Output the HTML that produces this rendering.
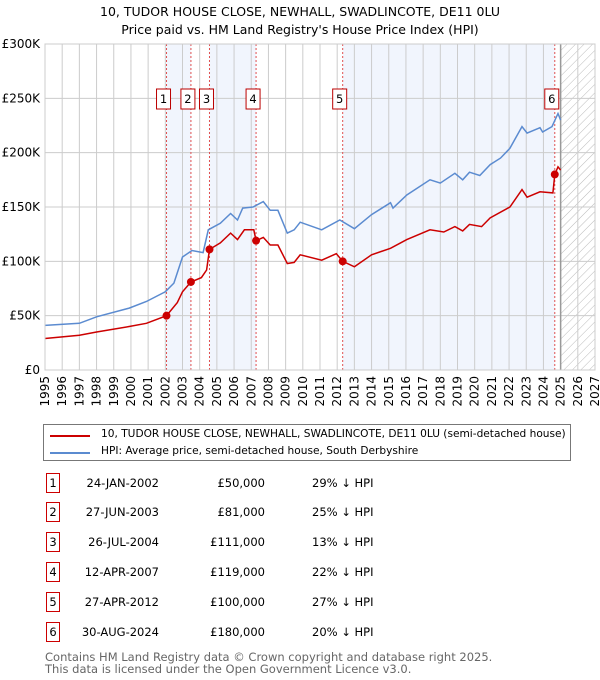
<!DOCTYPE html>
<html><head><meta charset="utf-8">
<style>
body{margin:0;background:#fff;font-family:"DejaVu Sans","Liberation Sans",sans-serif;}
#wrap{position:relative;width:600px;height:680px;overflow:hidden;}
.t{position:absolute;font-size:11.5px;color:#000;white-space:nowrap;}
.box{position:absolute;width:14px;height:20px;border:1.5px solid #c00;font-size:11.5px;text-align:center;line-height:18px;box-sizing:border-box;}
</style></head><body>
<div id="wrap">
<div class="t" style="left:0;width:600px;text-align:center;top:4px;font-size:12.5px">10, TUDOR HOUSE CLOSE, NEWHALL, SWADLINCOTE, DE11 0LU</div>
<div class="t" style="left:0;width:600px;text-align:center;top:22px;font-size:12.5px">Price paid vs. HM Land Registry's House Price Index (HPI)</div>
<svg id="chart" width="600" height="415" style="position:absolute;left:0;top:0"></svg>

<div style="position:absolute;left:43px;top:424px;width:528px;height:37px;border:1px solid #777;box-sizing:border-box">
 <div style="position:absolute;left:6px;top:10px;width:40px;height:2px;background:#c00"></div>
 <div class="t" style="left:57px;top:3px;font-size:10.6px">10, TUDOR HOUSE CLOSE, NEWHALL, SWADLINCOTE, DE11 0LU (semi-detached house)</div>
 <div style="position:absolute;left:6px;top:27px;width:40px;height:2px;background:#5b8bd0"></div>
 <div class="t" style="left:57px;top:20px;font-size:10.6px">HPI: Average price, semi-detached house, South Derbyshire</div>
</div>

<div id="table"></div>

<div class="t" style="left:45px;top:650px;color:#666;font-size:11.5px">Contains HM Land Registry data © Crown copyright and database right 2025.</div>
<div class="t" style="left:45px;top:662px;color:#666;font-size:11.5px">This data is licensed under the Open Government Licence v3.0.</div>
</div>
<script>
const hpiYears=[1995,1997,1998,1999.9,2000.9,2002.0,2002.5,2003.0,2003.55,2004.2,2004.5,2005.2,2005.8,2006.2,2006.5,2007.1,2007.7,2008.1,2008.55,2009.1,2009.5,2009.85,2011.1,2012.15,2013.0,2014.0,2015.1,2015.25,2016.05,2017.4,2018.0,2018.85,2019.3,2019.7,2020.3,2020.9,2021.5,2022.05,2022.75,2023.05,2023.8,2023.95,2024.5,2024.85,2025.0];
const hpiValues=[41,43,49,57,63,72,80,104,110,108,129,135,144,138,149,150,155,147,147,126,129,136,129,138,130,143,154,149,161,175,172,181,175,182,179,189,195,204,224,218,223,219,224,236,230];
const propYears=[1995,1997,1998,1999.9,2000.9,2002.07,2002.7,2003.0,2003.49,2004.1,2004.4,2004.57,2005.2,2005.8,2006.2,2006.6,2007.15,2007.28,2007.7,2008.1,2008.55,2009.1,2009.5,2009.85,2011.1,2011.95,2012.32,2013.0,2014.0,2015.1,2016.05,2017.4,2018.2,2018.85,2019.3,2019.7,2020.4,2020.9,2022.05,2022.75,2023.05,2023.8,2024.55,2024.66,2024.85,2025.0];
const propValues=[29,32,35,40,43,50,62,72,81,85,92,111,117,126,120,129,129,119,122,115,115,98,99,106,101,107,100,95,106,112,120,129,127,132,128,134,132,140,150,166,159,164,163,180,187,184];
const saleLabels=["1","2","3","4","5","6"];
const saleYears=[2002.07,2003.49,2004.57,2007.28,2012.32,2024.66];
const saleValues=[50,81,111,119,100,180];
const saleDates=["24-JAN-2002","27-JUN-2003","26-JUL-2004","12-APR-2007","27-APR-2012","30-AUG-2024"];
const salePrices=["£50,000","£81,000","£111,000","£119,000","£100,000","£180,000"];
const saleDiffs=["29% ↓ HPI","25% ↓ HPI","13% ↓ HPI","22% ↓ HPI","27% ↓ HPI","20% ↓ HPI"];
const yTicks=[0,50,100,150,200,250,300];
const yTickLabels=["£0","£50K","£100K","£150K","£200K","£250K","£300K"];
const xTicks=[1995,1996,1997,1998,1999,2000,2001,2002,2003,2004,2005,2006,2007,2008,2009,2010,2011,2012,2013,2014,2015,2016,2017,2018,2019,2020,2021,2022,2023,2024,2025,2026,2027];

const X0=45,X1=595,Y0=370,Y1=44;
const xs=y=>X0+(y-1995)/(2027-1995)*(X1-X0);
const ys=v=>Y0-v/300*(Y0-Y1);
const NS="http://www.w3.org/2000/svg";
const svg=document.getElementById('chart');
function mk(tag,attrs,parent){const e=document.createElementNS(NS,tag);for(const k in attrs)e.setAttribute(k,attrs[k]);(parent||svg).appendChild(e);return e;}

const defs=mk('defs',{});
const pat=mk('pattern',{id:'hatch',width:6,height:6,patternUnits:'userSpaceOnUse',patternTransform:'rotate(45)'},defs);
mk('line',{x1:0,y1:0,x2:0,y2:6,stroke:'#bbb','stroke-width':1},pat);

for(let i=0;i<saleYears.length-1;i+=2){
  const b=mk('rect',{x:xs(saleYears[i]),y:Y1,width:xs(saleYears[i+1])-xs(saleYears[i]),height:Y0-Y1,fill:'#f1f5fd'});
  
  
}
const h=mk('rect',{x:xs(2025),y:Y1,width:X1-xs(2025),height:Y0-Y1,fill:'url(#hatch)'});



xTicks.forEach(t=>{
  const l=mk('line',{x1:xs(t),x2:xs(t),y1:Y1,y2:Y0,stroke:'#ccc','stroke-width':1});
  
  
  const tx=mk('text',{x:0,y:0,'font-size':12,'text-anchor':'end','dominant-baseline':'central',transform:`translate(${xs(t)},${Y0+6}) rotate(-90)`,fill:'#000','font-family':'DejaVu Sans, Liberation Sans, sans-serif'});
  tx.textContent=t;
  
  
});
yTicks.forEach((t,i)=>{
  const l=mk('line',{x1:X0,x2:X1,y1:ys(t),y2:ys(t),stroke:'#ccc','stroke-width':1});
  
  
  const tx=mk('text',{x:X0-5,y:ys(t)+4,'font-size':12,'text-anchor':'end',fill:'#000','font-family':'DejaVu Sans, Liberation Sans, sans-serif'});
  tx.textContent=yTickLabels[i];
  
  
});
const nowL=mk('line',{x1:xs(2025),x2:xs(2025),y1:Y1,y2:Y0,stroke:'#999','stroke-width':1.5});



saleYears.forEach(y=>{
  const l=mk('line',{x1:xs(y),x2:xs(y),y1:Y1,y2:Y0,stroke:'#e05050','stroke-width':1,'stroke-dasharray':'2,2'});
  
  
});

function pathFrom(xa,va){return xa.map((y,i)=>(i?'L':'M')+xs(y).toFixed(1)+','+ys(va[i]).toFixed(1)).join('');}
const hp=mk('path',{d:pathFrom(hpiYears,hpiValues),fill:'none',stroke:'#5b8bd0','stroke-width':1.5});


const pp=mk('path',{d:pathFrom(propYears,propValues),fill:'none',stroke:'#cc0000','stroke-width':1.5});



saleYears.forEach((y,i)=>{
  const c=mk('circle',{cx:xs(y),cy:ys(saleValues[i]),r:4,fill:'#cc0000'});
  
  
  const r=mk('rect',{x:xs(y)-10,y:89,width:14,height:20,fill:'#fff',stroke:'#b00','stroke-width':1});
  
  
  const t=mk('text',{x:xs(y)-3,y:103,'font-size':11.5,'text-anchor':'middle',fill:'#000','font-family':'DejaVu Sans, Liberation Sans, sans-serif'});
  t.textContent=saleLabels[i];
  
  
});
const ax=mk('rect',{x:X0,y:Y1,width:X1-X0,height:Y0-Y1,fill:'none',stroke:'#ccc','stroke-width':1});



const tb=document.getElementById('table');
const rowY=[484,513,543,573,603,633];
saleLabels.forEach((lab,i)=>{
  const y=rowY[i];
  const b=document.createElement('div');b.className='box';b.style.left='46px';b.style.top=(y-11)+'px';b.textContent=lab;
  
  
  tb.appendChild(b);
  const d=document.createElement('div');d.className='t';d.style.left='70px';d.style.width='89px';d.style.textAlign='right';d.style.top=(y-8)+'px';d.textContent=saleDates[i];
  
  
  tb.appendChild(d);
  const p=document.createElement('div');p.className='t';p.style.left='165px';p.style.width='100px';p.style.textAlign='right';p.style.top=(y-8)+'px';p.textContent=salePrices[i];
  
  
  tb.appendChild(p);
  const q=document.createElement('div');q.className='t';q.style.left='312px';q.style.top=(y-8)+'px';q.textContent=saleDiffs[i];
  
  
  tb.appendChild(q);
});
</script>
</body></html>
